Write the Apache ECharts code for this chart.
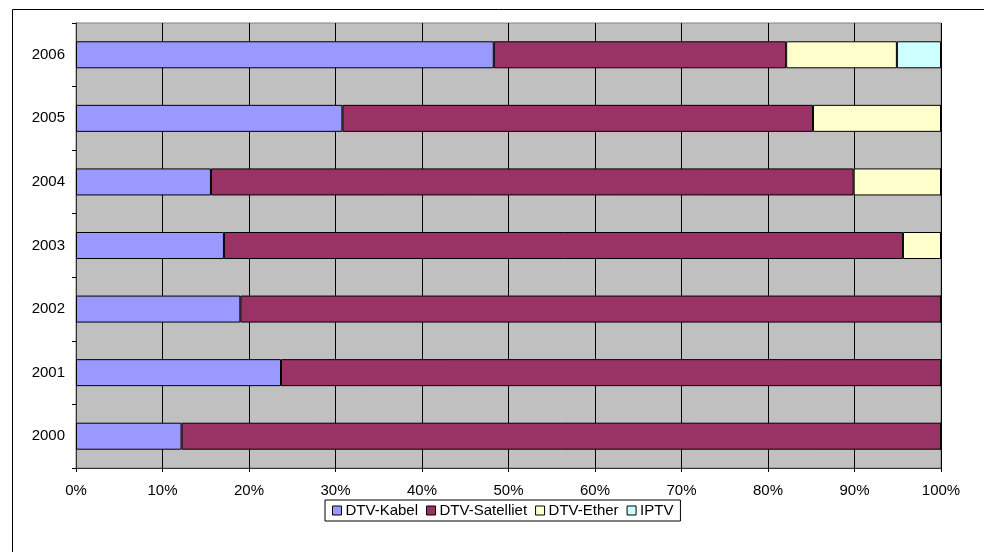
<!DOCTYPE html>
<html>
<head>
<meta charset="utf-8">
<script src="https://cdn.jsdelivr.net/npm/echarts@6/dist/echarts.min.js"></script>
<style>
  html, body { margin: 0; padding: 0; background: #fff; }
  #chart { width: 984px; height: 552px; }
</style>
</head>
<body>
<div id="chart"></div>
<script>
// Aandeel per distributievorm van digitale tv (procent per jaar)
const years = ['2000', '2001', '2002', '2003', '2004', '2005', '2006'];
const kabel = [12.2, 23.7, 19.0, 17.1, 15.6, 30.8, 48.3];
const satelliet = [87.8, 76.3, 81.0, 78.5, 74.3, 54.4, 33.8];
const ether = [0, 0, 0, 4.4, 10.1, 14.8, 12.8];
const iptv = [0, 0, 0, 0, 0, 0, 5.1];
const xTicks = [0, 10, 20, 30, 40, 50, 60, 70, 80, 90, 100];

const FONT = 'Liberation Sans, Arial, sans-serif';

function bar(name, data, color) {
  return {
    name: name,
    type: 'bar',
    stack: 'total',
    data: data,
    barWidth: 27,
    itemStyle: { color: color, borderColor: '#000', borderWidth: 1 },
    emphasis: { disabled: true }
  };
}

const chart = echarts.init(document.getElementById('chart'), null, { renderer: 'canvas' });
chart.setOption({
  animation: false,
  textStyle: { fontFamily: FONT },
  graphic: [{
    type: 'rect',
    shape: { x: 12.5, y: 9.5, width: 1100, height: 700 },
    style: { fill: 'none', stroke: '#000', lineWidth: 1 },
    silent: true,
    z: -10
  }],
  grid: {
    left: 76, right: 43, top: 23, bottom: 84,
    show: true,
    backgroundColor: '#C0C0C0',
    borderColor: '#808080',
    borderWidth: 1
  },
  xAxis: {
    type: 'value',
    min: xTicks[0],
    max: xTicks[xTicks.length - 1],
    interval: 10,
    axisLine: { show: true, lineStyle: { color: '#333', width: 1 } },
    axisTick: { show: true, length: 4, lineStyle: { color: '#000' } },
    splitLine: { show: true, lineStyle: { color: '#000', width: 1 } },
    axisLabel: {
      formatter: '{value}%', color: '#000', fontSize: 15, fontFamily: FONT, margin: 15
    }
  },
  yAxis: {
    type: 'category',
    data: years,
    axisLine: { show: true, onZero: false, lineStyle: { color: '#333', width: 1 } },
    axisTick: { show: true, length: 4, lineStyle: { color: '#000' } },
    splitLine: { show: false },
    axisLabel: { color: '#000', fontSize: 15, fontFamily: FONT, margin: 11 }
  },
  legend: {
    left: 325, top: 500,
    itemWidth: 9, itemHeight: 9, itemGap: 8,
    padding: [3, 7, 3, 7],
    borderColor: '#000', borderWidth: 1,
    icon: 'rect',
    textStyle: { color: '#000', fontSize: 15, fontFamily: FONT, padding: [0, 0, 0, -1] },
    data: ['DTV-Kabel', 'DTV-Satelliet', 'DTV-Ether', 'IPTV'].map(n => ({
      name: n, itemStyle: { borderColor: '#000', borderWidth: 1 }
    }))
  },
  series: [
    bar('DTV-Kabel', kabel, '#9999FF'),
    bar('DTV-Satelliet', satelliet, '#993366'),
    bar('DTV-Ether', ether, '#FFFFCC'),
    bar('IPTV', iptv, '#CCFFFF')
  ]
});
</script>
</body>
</html>
